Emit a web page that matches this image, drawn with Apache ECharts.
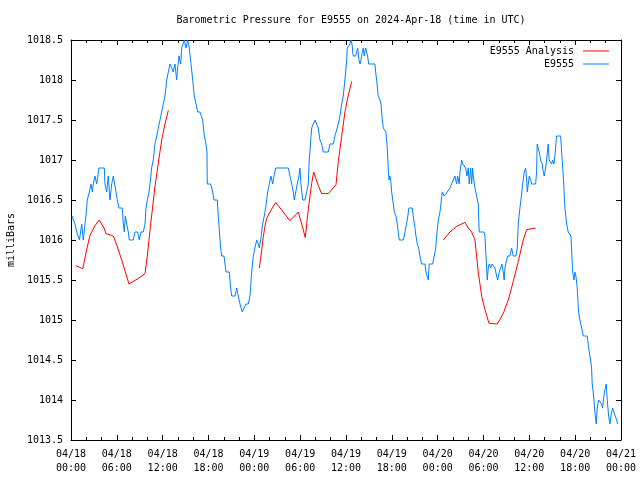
<!DOCTYPE html>
<html>
<head>
<meta charset="utf-8">
<script src="https://cdn.jsdelivr.net/npm/echarts@6/dist/echarts.min.js"></script>
<style>html,body{margin:0;padding:0;background:#fff}#c{width:640px;height:480px}</style>
</head>
<body>
<div id="c"></div>
<script>
// Hours since 2024-04-18 00:00 UTC
const obsHours = [0.13,0.52,0.75,0.92,1.11,1.40,1.61,1.83,1.96,2.13,2.40,2.62,2.79,2.92,3.14,3.36,3.66,4.36,4.45,4.67,4.88,5.10,5.33,5.54,5.67,5.89,6.06,6.28,6.71,6.85,6.98,7.11,7.29,7.50,7.63,8.15,8.38,8.73,8.94,9.16,9.46,9.69,9.82,9.99,10.21,10.34,10.56,10.77,10.99,11.22,11.43,11.65,11.87,12.08,12.30,12.53,12.74,12.96,13.18,13.39,13.61,13.83,13.91,14.14,14.36,14.49,14.70,14.83,15.05,15.27,15.48,15.71,15.93,16.14,16.36,16.58,16.88,17.24,17.45,17.67,17.80,17.84,18.29,18.55,18.72,19.15,19.28,19.59,19.72,20.03,20.16,20.29,20.72,20.90,21.03,21.47,21.69,21.90,22.12,22.42,22.68,22.91,23.21,23.43,23.65,23.86,24.08,24.31,24.52,24.65,24.83,24.96,25.09,25.30,25.48,25.75,25.96,26.18,26.40,26.57,26.79,28.44,28.66,28.89,29.10,29.23,29.45,29.62,29.84,29.97,30.10,30.33,30.63,30.85,31.06,31.19,31.35,31.51,31.71,31.94,32.16,32.37,32.59,32.81,33.02,33.68,33.90,34.33,34.55,34.78,34.99,35.21,35.43,35.64,35.86,36.09,36.16,36.52,36.65,36.78,36.95,37.26,37.40,37.53,37.70,37.83,37.96,38.13,38.26,38.39,38.57,38.70,38.83,38.97,39.79,39.88,40.01,40.22,40.45,40.58,40.75,40.88,41.10,41.23,41.40,41.53,41.62,41.75,41.85,41.98,42.19,42.32,42.54,42.71,42.84,42.97,43.49,43.63,43.81,44.02,44.24,44.67,44.80,45.03,45.16,45.33,45.51,45.68,45.90,46.34,46.47,46.64,46.77,46.90,47.34,47.55,47.74,47.87,48.08,48.30,48.43,48.60,48.73,48.86,49.08,49.25,49.38,49.61,49.83,50.04,50.26,50.48,50.61,50.82,50.92,51.14,51.27,51.44,51.66,51.83,52.00,52.13,52.32,52.45,52.58,52.66,52.88,53.10,53.31,53.44,54.06,54.19,54.41,54.49,54.62,54.75,54.93,55.10,55.27,55.50,55.72,55.85,56.06,56.24,56.41,56.58,56.71,56.81,57.03,57.16,57.46,57.68,57.89,58.25,58.42,58.55,58.77,58.90,59.07,59.20,59.33,59.52,59.65,59.73,59.86,59.99,60.17,60.30,60.82,60.95,61.03,61.16,61.30,61.48,61.69,61.82,61.95,62.13,62.26,62.47,62.60,62.79,62.92,63.05,63.22,63.35,63.48,63.57,64.10,64.23,64.44,64.66,64.88,65.09,65.31,65.45,65.67,65.84,65.97,66.10,66.27,66.45,66.62,66.85,67.06,67.58,67.71,67.84,68.02,68.15,68.23,68.36,68.49,68.63,68.76,68.89,69.07,69.33,69.46,69.59,69.76,69.93,70.07,70.20,70.38,70.55,70.68,70.90,71.07,71.24,71.43,71.56];
const obsPressure = [1016.3,1016.2,1016.1,1016.1,1016.0,1016.2,1016.0,1016.2,1016.3,1016.5,1016.6,1016.7,1016.6,1016.7,1016.8,1016.7,1016.9,1016.9,1016.7,1016.6,1016.8,1016.5,1016.7,1016.8,1016.8,1016.6,1016.5,1016.4,1016.4,1016.2,1016.1,1016.3,1016.2,1016.1,1016.0,1016.0,1016.1,1016.1,1016.0,1016.1,1016.1,1016.2,1016.4,1016.5,1016.6,1016.7,1016.9,1017.0,1017.2,1017.3,1017.4,1017.5,1017.6,1017.7,1017.8,1018.0,1018.1,1018.2,1018.2,1018.1,1018.2,1018.0,1018.1,1018.3,1018.2,1018.4,1018.4,1018.5,1018.4,1018.5,1018.4,1018.2,1018.0,1017.8,1017.7,1017.6,1017.6,1017.5,1017.3,1017.2,1017.1,1016.7,1016.7,1016.6,1016.5,1016.5,1016.3,1015.9,1015.8,1015.8,1015.7,1015.6,1015.6,1015.4,1015.3,1015.3,1015.4,1015.3,1015.2,1015.1,1015.1,1015.2,1015.2,1015.3,1015.6,1015.8,1015.9,1016.0,1015.95,1015.9,1016.0,1016.1,1016.2,1016.3,1016.4,1016.6,1016.7,1016.8,1016.7,1016.8,1016.9,1016.9,1016.8,1016.7,1016.6,1016.5,1016.5,1016.7,1016.8,1016.9,1016.7,1016.5,1016.5,1016.6,1016.7,1017.0,1017.2,1017.4,1017.45,1017.5,1017.45,1017.4,1017.25,1017.2,1017.1,1017.1,1017.2,1017.2,1017.3,1017.3,1017.45,1017.55,1017.7,1017.8,1018.0,1018.25,1018.4,1018.45,1018.5,1018.45,1018.3,1018.3,1018.35,1018.4,1018.25,1018.2,1018.25,1018.35,1018.4,1018.3,1018.4,1018.4,1018.3,1018.2,1018.2,1018.1,1018.0,1017.8,1017.75,1017.7,1017.5,1017.4,1017.4,1017.35,1017.15,1016.9,1016.75,1016.8,1016.75,1016.6,1016.45,1016.35,1016.3,1016.2,1016.1,1016.0,1016.0,1016.05,1016.15,1016.25,1016.4,1016.4,1016.3,1016.15,1016.05,1015.95,1015.9,1015.8,1015.7,1015.7,1015.6,1015.6,1015.5,1015.7,1015.7,1015.8,1015.9,1016.05,1016.25,1016.35,1016.45,1016.6,1016.6,1016.55,1016.55,1016.6,1016.6,1016.65,1016.7,1016.75,1016.8,1016.7,1016.8,1016.7,1016.85,1017.0,1016.95,1016.95,1016.9,1016.8,1016.9,1016.7,1016.9,1016.7,1016.9,1016.8,1016.65,1016.55,1016.45,1016.1,1016.1,1016.05,1015.65,1015.5,1015.65,1015.7,1015.65,1015.7,1015.7,1015.65,1015.55,1015.5,1015.6,1015.65,1015.7,1015.6,1015.5,1015.65,1015.75,1015.8,1015.8,1015.9,1015.8,1015.8,1015.9,1016.2,1016.4,1016.5,1016.65,1016.75,1016.85,1016.9,1016.75,1016.6,1016.7,1016.8,1016.75,1016.7,1016.7,1016.85,1017.2,1017.15,1017.1,1017.0,1016.95,1016.85,1016.8,1016.9,1017.0,1017.2,1017.0,1017.0,1016.95,1017.0,1016.95,1017.05,1017.2,1017.3,1017.3,1017.1,1016.8,1016.4,1016.2,1016.1,1016.1,1016.05,1015.6,1015.5,1015.6,1015.55,1015.4,1015.1,1015.0,1014.9,1014.8,1014.8,1014.7,1014.6,1014.5,1014.4,1014.2,1014.1,1014.1,1013.8,1013.7,1013.9,1014.0,1014.0,1013.95,1013.9,1014.05,1014.15,1014.2,1014.0,1013.8,1013.7,1013.8,1013.9,1013.9,1013.8,1013.75,1013.7];

const anaHours1 = [0.65,1.53,2.05,2.49,3.14,3.70,4.32,4.58,5.54,5.98,6.64,7.59,8.81,9.69,9.99,10.34,10.99,11.43,11.87,12.30,12.74];
const anaPressure1 = [1015.68,1015.64,1015.88,1016.06,1016.18,1016.25,1016.15,1016.08,1016.05,1015.94,1015.75,1015.45,1015.52,1015.58,1015.8,1016.12,1016.67,1016.96,1017.25,1017.45,1017.62];
const anaHours2 = [24.65,24.96,25.17,25.39,25.62,26.05,26.79,27.79,28.66,29.75,30.20,30.67,31.06,31.51,31.77,32.37,32.81,33.68,34.69,34.99,35.43,35.86,36.30,36.74];
const anaPressure2 = [1015.65,1015.87,1016.04,1016.17,1016.27,1016.35,1016.47,1016.35,1016.24,1016.35,1016.2,1016.03,1016.38,1016.71,1016.85,1016.68,1016.58,1016.58,1016.69,1016.98,1017.29,1017.6,1017.81,1017.98];
const anaHours3 = [48.73,49.61,50.48,51.57,52.00,52.45,52.88,53.10,53.31,53.76,54.19,54.71,55.80,56.58,57.24,57.89,58.55,59.20,59.65,60.82];
const anaPressure3 = [1016.0,1016.1,1016.17,1016.22,1016.15,1016.1,1016.0,1015.8,1015.6,1015.3,1015.13,1014.96,1014.95,1015.08,1015.25,1015.48,1015.73,1016.0,1016.13,1016.15];

const yTicks = [1013.5,1014,1014.5,1015,1015.5,1016,1016.5,1017,1017.5,1018,1018.5];
const xTickDays = ['04/18','04/19','04/20','04/21'];

const obsData = obsHours.map((h, i) => [h, obsPressure[i]]);
const anaData = []
  .concat(anaHours1.map((h, i) => [h, anaPressure1[i]]), [[null, null]])
  .concat(anaHours2.map((h, i) => [h, anaPressure2[i]]), [[null, null]])
  .concat(anaHours3.map((h, i) => [h, anaPressure3[i]]));

const FONT = 'DejaVu Sans Mono';
function fmtX(v) {
  const d = Math.floor(v / 24 + 1e-6);
  const hh = Math.round(v - d * 24);
  return xTickDays[d] + '\n' + String(hh).padStart(2, '0') + ':00';
}
function fmtY(v) {
  return yTicks.includes(v) ? String(v) : '';
}

const chart = echarts.init(document.getElementById('c'), null, {renderer: 'canvas'});
const baseX = {
  type: 'value', min: 0, max: 72, interval: 6,
  axisLine: {show: true, onZero: false, lineStyle: {color: '#000', width: 1}},
  axisTick: {show: true, inside: true, length: 5, lineStyle: {color: '#000'}},
  minorTick: {show: true, splitNumber: 3, length: 3, lineStyle: {color: '#000'}},
  splitLine: {show: false}
};
const baseY = {
  type: 'value', min: 1013.5, max: 1018.5, interval: 0.5,
  axisLine: {show: true, onZero: false, lineStyle: {color: '#000', width: 1}},
  axisTick: {show: true, inside: true, length: 5, lineStyle: {color: '#000'}},
  splitLine: {show: false}
};
chart.setOption({
  animation: false,
  backgroundColor: '#fff',
  title: {
    text: 'Barometric Pressure for E9555 on 2024-Apr-18 (time in UTC)',
    left: 346, top: 10, textAlign: 'center',
    textStyle: {fontFamily: FONT, fontSize: 10, fontWeight: 'normal', color: '#000'}
  },
  legend: [
    {data: ['E9555 Analysis'], right: 26, top: 41, orient: 'vertical', align: 'right',
     itemWidth: 26, itemHeight: 1, icon: 'rect', itemGap: 2,
     textStyle: {fontFamily: FONT, fontSize: 10, color: '#000', padding: [0, 4, 0, 0]}},
    {data: ['E9555'], right: 26, top: 54, orient: 'vertical', align: 'right',
     itemWidth: 26, itemHeight: 1, icon: 'rect', itemGap: 2,
     textStyle: {fontFamily: FONT, fontSize: 10, color: '#000', padding: [0, 4, 0, 0]}}
  ],
  grid: {left: 71, right: 19, top: 40, bottom: 40, containLabel: false, outerBoundsMode: 'none'},
  xAxis: [
    Object.assign({}, baseX, {
      position: 'bottom',
      axisLabel: {show: true, formatter: fmtX, fontFamily: FONT, fontSize: 10, color: '#000',
                  margin: 7, lineHeight: 14, showMinLabel: true, showMaxLabel: true}
    }),
    Object.assign({}, baseX, {position: 'top', axisLabel: {show: false}})
  ],
  yAxis: [
    Object.assign({}, baseY, {
      position: 'left',
      name: 'milliBars', nameLocation: 'middle', nameGap: 55, nameRotate: 90,
      nameTextStyle: {fontFamily: FONT, fontSize: 10, color: '#000'},
      axisLabel: {show: true, formatter: fmtY, fontFamily: FONT, fontSize: 10, color: '#000', margin: 8}
    }),
    Object.assign({}, baseY, {position: 'right', axisLabel: {show: false}})
  ],
  series: [
    {name: 'E9555 Analysis', type: 'line', data: anaData, xAxisIndex: 0, yAxisIndex: 0,
     showSymbol: false, connectNulls: false, color: '#ff0000',
     lineStyle: {color: '#ff0000', width: 1}, z: 3},
    {name: 'E9555', type: 'line', data: obsData, xAxisIndex: 0, yAxisIndex: 0,
     showSymbol: false, color: '#0080ff',
     lineStyle: {color: '#0080ff', width: 1}, z: 2}
  ]
});
</script>
</body>
</html>
